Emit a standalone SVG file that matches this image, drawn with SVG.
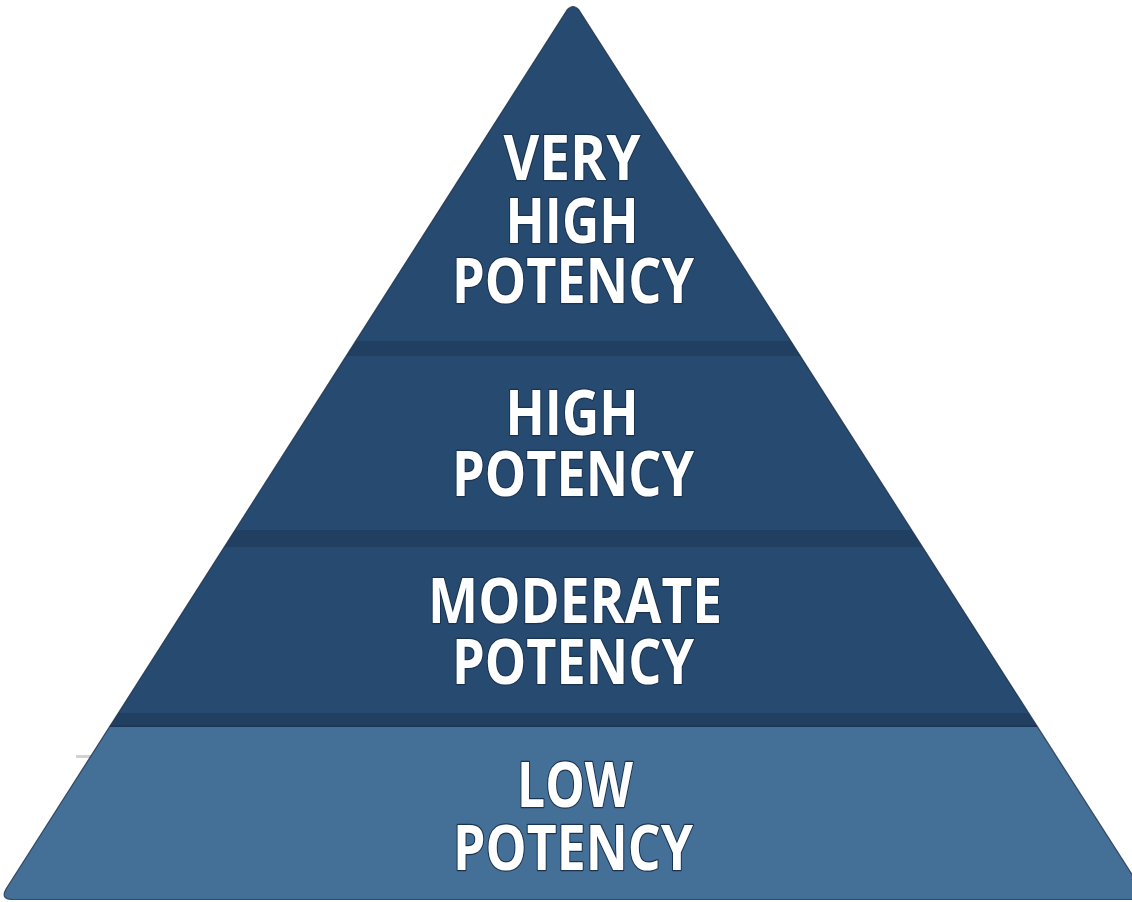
<svg xmlns="http://www.w3.org/2000/svg" width="1132" height="902" viewBox="0 0 1132 902">
  <defs>
    <clipPath id="tri">
      <path d="M 567,10 Q 573,3 579,10 L 1148,899.5 L 13,899.5 Q 0,899.5 6,889 Z"/>
    </clipPath>
    <style>
      .lbl { font-family: "Open Sans", "Noto Sans", "Liberation Sans", sans-serif; font-weight: 700; font-size: 63px; fill: #ffffff; stroke: #1a3350; stroke-width: 2.5; paint-order: stroke; stroke-linejoin: round; text-anchor: middle; }
      .dark { fill: #274a70; }
      .sep { fill: #213f60; }
      .light { fill: #446f96; }
    </style>
  </defs>
  <rect x="0" y="0" width="1132" height="902" fill="#ffffff"/>
  <rect x="76" y="755" width="18" height="3" fill="#d2d2d2"/>
  <g clip-path="url(#tri)">
    <g id="very-high-potency">
      <rect class="dark" x="0" y="0" width="1160" height="341"/>
      <rect class="sep" x="0" y="341" width="1160" height="15"/>
      <text class="lbl" x="572" y="180" textLength="137" lengthAdjust="spacingAndGlyphs">VERY</text>
      <text class="lbl" x="572" y="243" textLength="133" lengthAdjust="spacingAndGlyphs">HIGH</text>
      <text class="lbl" x="573" y="303" textLength="242" lengthAdjust="spacingAndGlyphs">POTENCY</text>
    </g>
    <g id="high-potency">
      <rect class="dark" x="0" y="356" width="1160" height="174"/>
      <rect class="sep" x="0" y="530" width="1160" height="17"/>
      <text class="lbl" x="572" y="435" textLength="133" lengthAdjust="spacingAndGlyphs">HIGH</text>
      <text class="lbl" x="573" y="496" textLength="242" lengthAdjust="spacingAndGlyphs">POTENCY</text>
    </g>
    <g id="moderate-potency">
      <rect class="dark" x="0" y="547" width="1160" height="166"/>
      <rect class="sep" x="0" y="713" width="1160" height="13"/>
      <rect fill="#1b3656" x="0" y="725.5" width="1160" height="1.5"/>
      <text class="lbl" x="575" y="623" textLength="294" lengthAdjust="spacingAndGlyphs">MODERATE</text>
      <text class="lbl" x="573" y="684" textLength="242" lengthAdjust="spacingAndGlyphs">POTENCY</text>
    </g>
    <g id="low-potency">
      <rect class="light" x="0" y="727" width="1160" height="180"/>
      <text class="lbl" x="575" y="807" textLength="116" lengthAdjust="spacingAndGlyphs">LOW</text>
      <text class="lbl" x="573" y="870" textLength="240" lengthAdjust="spacingAndGlyphs">POTENCY</text>
    </g>
  </g>
  <g id="outline">
    <path d="M 567,10 Q 573,3 579,10 L 1148,899.5 L 13,899.5 Q 0,899.5 6,889 Z" fill="none" stroke="#1d3049" stroke-width="1.2" stroke-opacity="0.8"/>
  </g>
</svg>
